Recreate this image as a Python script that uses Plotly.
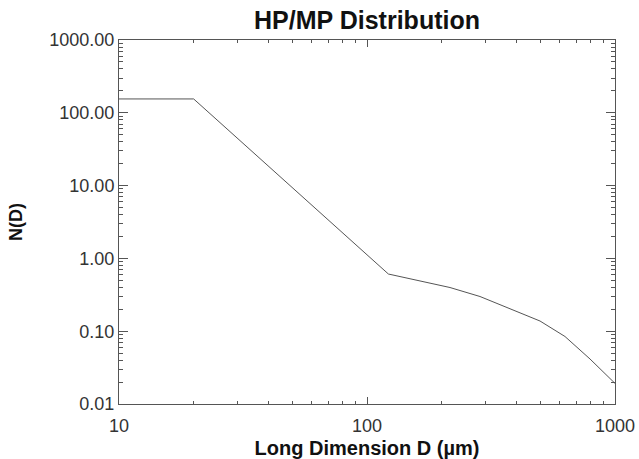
import plotly.graph_objects as go

# Long dimension D (µm) and N(D)
D = [10, 20, 122, 163.6, 216.1, 285.5, 377.3, 498.5, 628.5, 793, 1000]
N = [155, 155, 0.61, 0.489, 0.398, 0.2997, 0.205, 0.138, 0.0846, 0.0415, 0.0192]

x_tickvals = [10, 100, 1000]
x_ticktext = ["10", "100", "1000"]
y_tickvals = [0.01, 0.1, 1, 10, 100, 1000]
y_ticktext = ["0.01", "0.10", "1.00", "10.00", "100.00", "1000.00"]

FONT = "Liberation Sans, Arial, Helvetica, sans-serif"
AX = "#555555"

fig = go.Figure()
fig.add_trace(go.Scatter(x=D, y=N, mode="lines",
                         line=dict(color="#555555", width=1),
                         showlegend=False, hoverinfo="skip"))

fig.update_layout(
    width=639, height=459,
    margin=dict(l=119, r=24, t=40, b=55),
    paper_bgcolor="white", plot_bgcolor="white",
    font=dict(family=FONT, color="#333333", size=18),
    title=dict(text="<b>HP/MP Distribution</b>", x=0.5, xref="paper",
               xanchor="center", y=1 - 20 / 459, yref="container",
               yanchor="middle", font=dict(size=25, color="#111111")),
)

fig.update_xaxes(
    type="log", range=[1, 3],
    tickvals=x_tickvals, ticktext=x_ticktext,
    ticks="inside", ticklen=7, tickcolor=AX, tickwidth=1,
    ticklabelstandoff=5,
    showline=True, linecolor=AX, linewidth=1, mirror="allticks",
    showgrid=False, zeroline=False,
    minor=dict(ticks="inside", ticklen=3, tickcolor=AX, dtick="D1", showgrid=False),
    title=dict(text="<b>Long Dimension D (µm)</b>", standoff=9,
               font=dict(size=20, color="#111111")),
    automargin=False,
)
fig.update_yaxes(
    type="log", range=[-2, 3],
    tickvals=y_tickvals, ticktext=y_ticktext,
    ticks="inside", ticklen=9, tickcolor=AX, tickwidth=1,
    showline=True, linecolor=AX, linewidth=1, mirror="allticks",
    showgrid=False, zeroline=False,
    minor=dict(ticks="inside", ticklen=4, tickcolor=AX, dtick="D1", showgrid=False),
    title=dict(text="<b>N(D)</b>", standoff=22,
               font=dict(size=18, color="#111111")),
    automargin=False,
)

fig.write_html("out.html")
